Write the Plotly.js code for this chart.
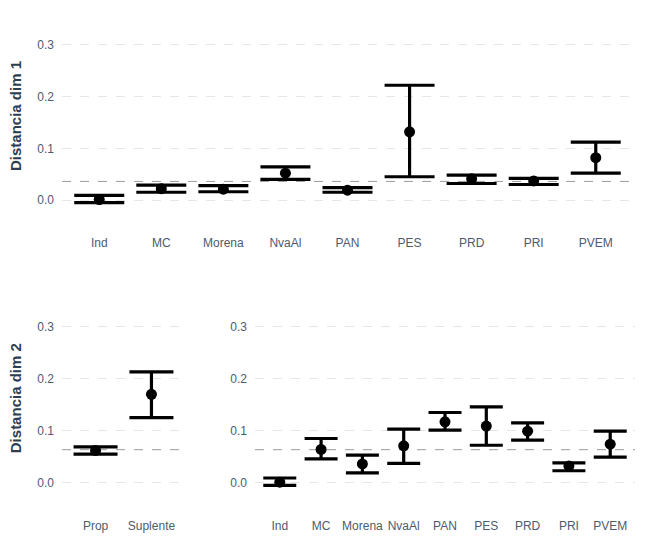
<!DOCTYPE html>
<html>
<head>
<meta charset="utf-8">
<script src="https://cdn.plot.ly/plotly-3.0.1.min.js"></script>
<style>
  html, body { margin: 0; padding: 0; background: #fff; }
  #chart { width: 647px; height: 552px; }
</style>
</head>
<body>
<div id="chart"></div>
<script>
/******************** DATA ********************/
// Dim 1, by party
const partidos = ["Ind", "MC", "Morena", "NvaAl", "PAN", "PES", "PRD", "PRI", "PVEM"];
const dim1Media = [0.001, 0.022, 0.021, 0.052, 0.019, 0.132, 0.041, 0.037, 0.082];
const dim1Sup   = [0.009, 0.029, 0.028, 0.064, 0.024, 0.222, 0.048, 0.042, 0.112];
const dim1Inf   = [-0.005, 0.015, 0.016, 0.040, 0.015, 0.045, 0.032, 0.030, 0.052];
const dim1Ref   = 0.036;

// Dim 2, by type of candidate
const tipos = ["Prop", "Suplente"];
const dim2TipoMedia = [0.062, 0.170];
const dim2TipoSup   = [0.069, 0.213];
const dim2TipoInf   = [0.055, 0.125];

// Dim 2, by party
const dim2Media = [0.001, 0.064, 0.036, 0.071, 0.117, 0.109, 0.099, 0.032, 0.074];
const dim2Sup   = [0.009, 0.085, 0.053, 0.103, 0.135, 0.146, 0.115, 0.038, 0.099];
const dim2Inf   = [-0.005, 0.046, 0.019, 0.037, 0.101, 0.072, 0.082, 0.023, 0.049];
const dim2Ref   = 0.0635;

const yTicks = [0, 0.1, 0.2, 0.3];

/******************** HELPERS ********************/
const FONT = "Liberation Sans, Arial, sans-serif";
const TICK_COLOR = "#4d5b6e";
const TITLE_COLOR = "#2c3e50";

function errTrace(cats, mid, hi, lo, xa, ya, capHalf) {
  return {
    type: "scatter",
    mode: "markers",
    x: cats,
    y: mid,
    xaxis: xa,
    yaxis: ya,
    marker: { size: 11, color: "#000" },
    error_y: {
      type: "data",
      symmetric: false,
      array: hi.map((v, i) => v - mid[i]),
      arrayminus: mid.map((v, i) => v - lo[i]),
      color: "#000",
      thickness: 3.2,
      width: capHalf
    },
    hoverinfo: "x+y",
    showlegend: false
  };
}

function xAxis(domain, anchor, nCats) {
  return {
    domain: domain,
    anchor: anchor,
    type: "category",
    range: [-0.6, nCats - 0.4],
    showgrid: false,
    zeroline: false,
    showline: false,
    ticks: "",
    ticklabelstandoff: 29,
    tickfont: { family: FONT, size: 12, color: TICK_COLOR },
    fixedrange: true
  };
}

function yAxis(domain, anchor, titleText) {
  return {
    domain: domain,
    anchor: anchor,
    range: [-0.01, 0.335],
    tickvals: yTicks,
    tickformat: ".1f",
    showgrid: true,
    gridcolor: "#e6e6e6",
    gridwidth: 1,
    griddash: "dash",
    zeroline: false,
    showline: false,
    ticks: "",
    ticklabelstandoff: 7,
    tickfont: { family: FONT, size: 12, color: TICK_COLOR },
    title: {
      text: titleText,
      standoff: 12,
      font: { family: FONT, size: 15, color: TITLE_COLOR, weight: "bold" }
    },
    automargin: false,
    fixedrange: true
  };
}

function refLine(xa, ya, value) {
  return {
    type: "line",
    xref: xa + " domain",
    yref: ya,
    x0: 0, x1: 1,
    y0: value, y1: value,
    line: { color: "#9a9a9a", width: 1, dash: "dash" },
    layer: "below"
  };
}

/******************** BUILD CHART ********************/
const traces = [
  errTrace(partidos, dim1Media, dim1Sup, dim1Inf, "x", "y", 25),
  errTrace(tipos, dim2TipoMedia, dim2TipoSup, dim2TipoInf, "x2", "y2", 22),
  errTrace(partidos, dim2Media, dim2Sup, dim2Inf, "x3", "y3", 16.5)
];

const layout = {
  width: 647,
  height: 552,
  margin: { l: 0, r: 0, t: 0, b: 0 },
  paper_bgcolor: "#fff",
  plot_bgcolor: "rgba(0,0,0,0)",
  font: { family: FONT },
  xaxis:  xAxis([62 / 647, 633 / 647], "y", partidos.length),
  yaxis:  yAxis([1 - 205.2 / 552, 1 - 26.8 / 552], "x", "Distancia dim 1"),
  xaxis2: xAxis([62 / 647, 185 / 647], "y2", tipos.length),
  yaxis2: yAxis([1 - 487.9 / 552, 1 - 308.5 / 552], "x2", "Distancia dim 2"),
  xaxis3: xAxis([255 / 647, 635 / 647], "y3", partidos.length),
  yaxis3: yAxis([1 - 487.9 / 552, 1 - 308.5 / 552], "x3", ""),
  shapes: [
    refLine("x", "y", dim1Ref),
    refLine("x2", "y2", dim2Ref),
    refLine("x3", "y3", dim2Ref)
  ]
};

Plotly.newPlot("chart", traces, layout, { displayModeBar: false, staticPlot: true });
</script>
</body>
</html>
